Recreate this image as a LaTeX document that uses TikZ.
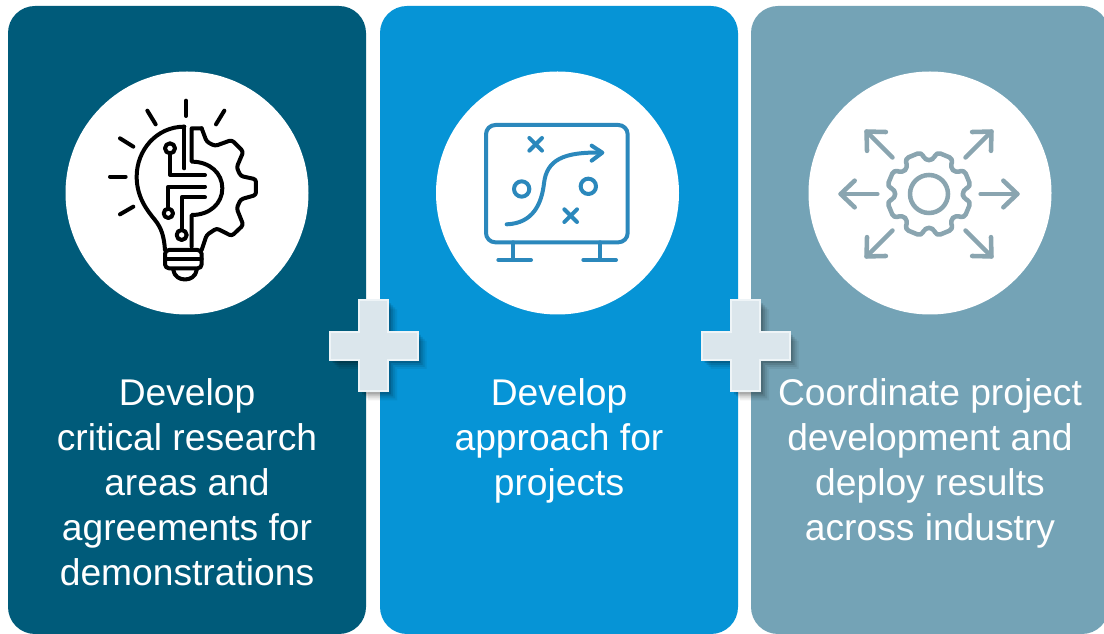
\documentclass[tikz,border=0pt]{standalone}
\usepackage{fontspec}
\setmainfont{Liberation Sans}
\usetikzlibrary{positioning}

\definecolor{paneldark}{HTML}{005B7A}
\definecolor{panelblue}{HTML}{0694D6}
\definecolor{panelgrey}{HTML}{74A3B6}
\definecolor{plusfill}{HTML}{DBE6EC}
\definecolor{plusedge}{HTML}{EEF4F7}
\definecolor{iconblue}{HTML}{2B88BC}
\definecolor{icongrey}{HTML}{8AA5B0}

\tikzset{
  panelbox/.style={rounded corners=27*0.75pt, inner sep=0pt, minimum width=358*0.75pt, minimum height=628*0.75pt},
  iconback/.style={circle, fill=white, inner sep=0pt, minimum size=243*0.75pt},
  paneltext/.style={anchor=north, align=center, text=white, inner sep=0pt, font=\fontsize{27.9}{33.75}\selectfont},
  iconline/.style={line width=3pt, line cap=round, line join=round},
  pluspath/.pic={
    \path[pic actions] (-14.5,-45.5) -- (14.5,-45.5) -- (14.5,-14) -- (44,-14) -- (44,14) -- (14.5,14)
      -- (14.5,45.5) -- (-14.5,45.5) -- (-14.5,14) -- (-44,14) -- (-44,-14) -- (-14.5,-14) -- cycle;
  }
}

\begin{document}
\begin{tikzpicture}[x=0.75pt,y=-0.75pt]
	\useasboundingbox (0,0) rectangle (1104,634);
	\fill[white] (0,0) rectangle (1104,634);

	% panels
	\node[panelbox, fill=paneldark] (panelA) at (187,320) {};
	\node[panelbox, fill=panelblue] (panelB) at (559,320) {};
	\node[panelbox, fill=panelgrey] (panelC) at (930,320) {};

	% circles
	\node[iconback] (circleA) at (187,193) {};
	\node[iconback] (circleB) at (557.5,193) {};
	\node[iconback] (circleC) at (930,193) {};

	% bulb
	\begin{scope}[shift={(90,80)},scale=1/3]
		\draw[iconline, black] (288,62) -- (288,108);
		\draw[iconline, black] (172,92) -- (197,133);
		\draw[iconline, black] (403,92) -- (378,133);
		\draw[iconline, black] (90,175) -- (130,200);
		\draw[iconline, black] (60,290) -- (107,290);
		\draw[iconline, black] (90,403) -- (130,380);
		\draw[iconline, black] (283,140) .. controls (200,140) and (140,210) .. (140,290)
			.. controls (140,350) and (170,390) .. (195,420)
			.. controls (215,445) and (222,470) .. (225,510);
		\draw[iconline, black, rounded corners=3pt] (225,510) -- (225,565) -- (335,565) -- (335,510) -- cycle;
		\draw[iconline, black] (225,537) -- (335,537);
		\draw[iconline, black] (250,570) .. controls (255,608) and (315,608) .. (320,570);
		\draw[iconline, black] (305,500) -- (305,405) .. controls (360,405) and (397,370) .. (397,325)
			.. controls (397,280) and (360,245) .. (305,245) -- (305,145) -- (335,145);
		\draw[iconline, black] (283,140) -- (283,265);
		\draw[iconline, black] (240,222) -- (240,285) -- (345,285);
		\draw[iconline, black] (345,320) -- (235,320) -- (235,385);
		\draw[iconline, black] (345,352) -- (275,352) -- (275,450);
		\draw[iconline, black] (240,205) circle (15);
		\draw[iconline, black] (235,400) circle (14);
		\draw[iconline, black] (275,465) circle (15);
		\draw[iconline, black, rounded corners=2pt] (335,145) -- (350,185) -- (375,198) -- (425,180)
			-- (460,215) -- (440,262) -- (452,288) -- (498,298) -- (498,345) -- (452,358) -- (440,385)
			-- (460,435) -- (425,468) -- (380,445) -- (350,465) -- (335,510);
	\end{scope}

	% board
	\begin{scope}[shift={(470,110)},scale=1/3]
		\draw[iconline, iconblue, rounded corners=7pt] (48,45) rectangle (473,397);
		\draw[iconline, iconblue] (130,397) -- (130,450);
		\draw[iconline, iconblue] (85,450) -- (183,450);
		\draw[iconline, iconblue] (390,397) -- (390,450);
		\draw[iconline, iconblue] (340,450) -- (438,450);
		\draw[iconline, iconblue] (110,343) .. controls (190,340) and (215,280) .. (222,220)
			.. controls (230,150) and (280,125) .. (395,128);
		\draw[iconline, iconblue] (365,107) -- (397,128) -- (365,152);
		\draw[iconline, iconblue] (178,84) -- (216,122);
		\draw[iconline, iconblue] (216,84) -- (178,122);
		\draw[iconline, iconblue] (283,298) -- (321,336);
		\draw[iconline, iconblue] (321,298) -- (283,336);
		\draw[iconline, iconblue] (155,237) circle (23);
		\draw[iconline, iconblue] (355,229) circle (23);
	\end{scope}

	% gear with arrows
	\begin{scope}[shift={(929,194)},scale=1/3]
		\draw[iconline, icongrey, line width=3.4pt] (0,0) circle (57);
		\draw[iconline, icongrey, line width=3.4pt, rounded corners=3pt] (6.5:102)
			\foreach \a in {0,45,...,315} {
				-- (\a+6.5:102) -- (\a+10.5:128) -- (\a+34.5:128) -- (\a+38.5:102)
			} -- cycle;
		\foreach \a in {0,45,135,180,225,315} {
			\draw[iconline, icongrey, line width=3.4pt, rotate=\a] (155,0) -- (265,0);
			\draw[iconline, icongrey, line width=3.4pt, rotate=\a] (223,-40) -- (265,0) -- (223,40);
		}
	\end{scope}

	% plus signs
	\foreach \px/\nm in {373.5/plusA,745.5/plusB} {
		\foreach \s/\o in {9/0.06,7/0.08,5/0.1,3/0.14} {
			\pic[fill=black, opacity=\o] at (\px+\s,346+\s) {pluspath};
		}
		\pic (\nm) [fill=plusfill, draw=plusedge, line width=1.5pt] at (\px,346) {pluspath};
	}

	% labels
	\node[paneltext] (textA) at (187,378) {Develop\\critical research\\areas and\\agreements for\\demonstrations};
	\node[paneltext] (textB) at (559,378) {Develop\\approach for\\projects};
	\node[paneltext] (textC) at (930,378) {Coordinate project\\development and\\deploy results\\across industry};
\end{tikzpicture}
\end{document}
